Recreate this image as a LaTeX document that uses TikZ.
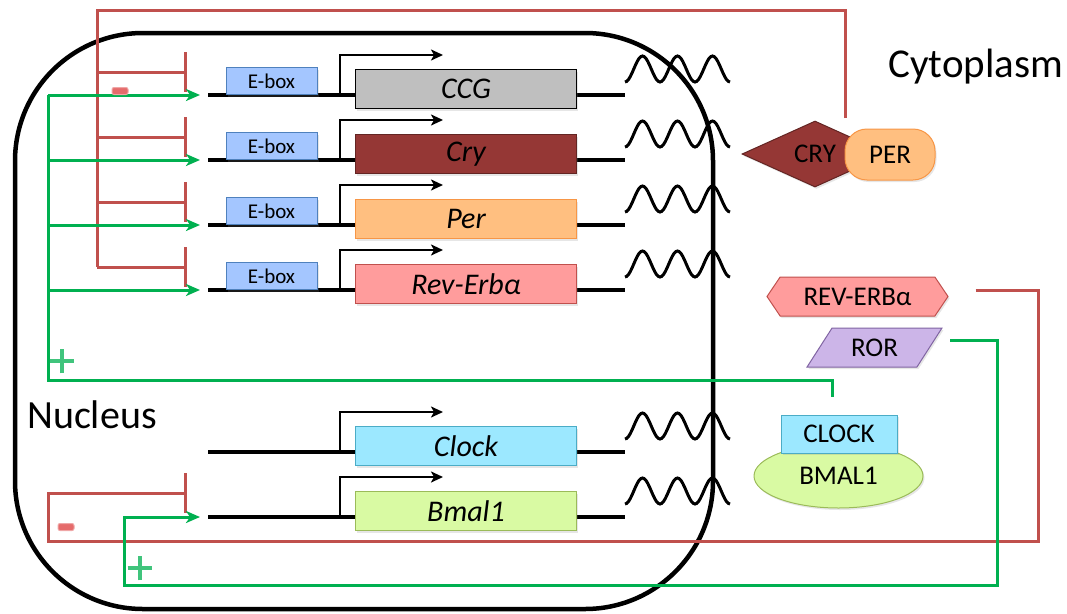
\documentclass[tikz,border=0pt]{standalone}
\usepackage{fontspec}
\setmainfont{Carlito}
\usetikzlibrary{arrows.meta,shapes.geometric,shapes.symbols,shapes.misc,shadows}
\definecolor{inhred}{HTML}{C0504D}
\definecolor{minusred}{HTML}{E56B6B}
\definecolor{actgreen}{HTML}{00B050}
\definecolor{eboxfill}{HTML}{A4C6FF}
\definecolor{eboxline}{HTML}{4F81BD}
\definecolor{ccggray}{HTML}{BFBFBF}
\definecolor{cryred}{HTML}{953735}
\definecolor{crydark}{HTML}{632523}
\definecolor{perfill}{HTML}{FFBF80}
\definecolor{perline}{HTML}{F79646}
\definecolor{revfill}{HTML}{FF9C9C}
\definecolor{revline}{HTML}{C0504D}
\definecolor{clkfill}{HTML}{9CE8FF}
\definecolor{clkline}{HTML}{4BACC6}
\definecolor{bmlfill}{HTML}{D9FAA3}
\definecolor{bmlline}{HTML}{9BBB59}
\definecolor{rorfill}{HTML}{CCB5E8}
\definecolor{rorline}{HTML}{8064A2}
\begin{document}
\begin{tikzpicture}[x=1pt,y=-1pt,
  shade/.style={drop shadow={opacity=0.2,shadow xshift=1.5pt,shadow yshift=-2pt}},
  gene/.style={draw, line width=1pt, minimum width=221pt, minimum height=39pt, inner sep=0pt, shade, font=\fontsize{30}{32}\selectfont\itshape},
  ebox/.style={draw=eboxline, fill=eboxfill, line width=1pt, minimum width=91pt, minimum height=27pt, inner sep=0pt, shade, font=\fontsize{21}{23}\selectfont},
  prot/.style={line width=1pt, inner sep=0pt, shade, font=\fontsize{27}{29}\selectfont},
  dna/.style={line width=4pt},
  wave/.style={line width=3pt},
  prom/.style={line width=2.5pt, -{Stealth[length=12pt,width=11pt,inset=3pt]}},
  repline/.style={draw=inhred, line width=3pt},
  inh/.style={repline, -{Bar[width=40pt]}},
  actline/.style={draw=actgreen, line width=3pt},
  act/.style={actline, -{Stealth[length=14pt,width=12pt,inset=4pt]}},
  minus/.style={rectangle, rounded corners=2pt, fill=minusred, draw=minusred!60, line width=1pt, minimum width=16pt, minimum height=7pt, inner sep=0pt},
  plus/.style={cross out, draw=actgreen!75, line width=3.5pt, minimum size=14pt, inner sep=0pt, rotate=45},
  ]
\useasboundingbox (0,0) rectangle (1067,613);

% nucleus
\draw[line width=4.5pt, rounded corners=128pt] (15,33) rectangle (713,609);
\node[anchor=base west, inner sep=0pt, font=\fontsize{40}{42}\selectfont] (nuc) at (27,428) {Nucleus};
\node[anchor=base west, inner sep=0pt, font=\fontsize{41}{43}\selectfont] (cyto) at (888,77) {Cytoplasm};

% genes: edit here for the rows
\foreach \y/\g/\txt/\fc/\dc in {95/ccg/CCG/ccggray/black, 160/cry/Cry/cryred/crydark,
    225/per/Per/perfill/perline, 290/rev/Rev-Erbα/revfill/revline,
    452/clk/Clock/clkfill/clkline, 517/bml/Bmal1/bmlfill/bmlline}
{
  \coordinate (\g-in) at (208,\y);
  \coordinate (\g-out) at (625,\y);
  \coordinate (\g-tss) at (340,\y);
  \coordinate (\g-go) at (443,\y-40);
  \coordinate (\g-bar) at (187,\y-23);
  \draw[dna] (\g-in) -- (\g-out);
  \node[gene, fill=\fc, draw=\dc] (\g) at (466,\y-6) {\txt};
  \draw[prom] (\g-tss) |- (\g-go);
  \draw[wave] plot[domain=0:1080, samples=61, smooth] ({625+\x/360*35},{\y-26+13*cos(\x)});
}

% proteins
\node[prot, diamond, fill=cryred, draw=crydark, minimum width=146pt, minimum height=66pt] (cryp) at (815,154) {CRY};
\node[prot, rectangle, rounded corners=22pt, fill=perfill, draw=perline, minimum width=90pt, minimum height=51pt] (perp) at (890,154.5) {PER};
\node[prot, signal, signal to=west and east, signal pointer angle=112, fill=revfill, draw=revline, minimum width=181pt, minimum height=39pt] (revp) at (857.5,296.5) {REV-ERBα};
\node[prot, trapezium, trapezium left angle=52, trapezium right angle=128, trapezium stretches=true, fill=rorfill, draw=rorline, minimum width=135pt, minimum height=39pt] (rorp) at (874.5,347.5) {ROR};
\node[prot, ellipse, fill=bmlfill, draw=bmlline, minimum width=169pt, minimum height=64pt] (bmlp) at (838.5,476) {BMAL1};
\node[prot, rectangle, fill=clkfill, draw=clkline, minimum width=116pt, minimum height=38pt] (clkp) at (839,434) {CLOCK};

% repression by CRY:PER
\coordinate (repbus) at (97,10);
\coordinate (crytop) at (845,118);
\draw[repline] (crytop) |- (repbus) -- (rev-bar -| repbus);
\foreach \g in {ccg,cry,per,rev}
  \draw[inh] (\g-bar -| repbus) -- (\g-bar);

% activation by CLOCK:BMAL1
\coordinate (actbus) at (48,380);
\draw[actline] ([xshift=-7pt,yshift=18pt]clkp.north) |- (actbus) -- (ccg-in -| actbus);
\foreach \g in {ccg,cry,per,rev}{
  \node[ebox, anchor=south] (\g-ebox) at (\g-in -| 271.5,0) {E-box};
  \draw[act] (\g-in -| actbus) -- ([xshift=-8pt]\g-in);
}

% REV-ERBa and ROR on Bmal1
\coordinate (bml-bar) at (187,493);
\draw[inh] ([xshift=27pt,yshift=6.5pt]revp.east) -| (1038,541) -- (48,541) |- (bml-bar);
\draw[act] ([xshift=20pt,yshift=7.5pt]rorp.east) -| (997,585) -- (124,585) |- ([xshift=-8pt]bml-in);

% signs
\node[minus] (minus1) at (120,91) {};
\node[minus] (minus2) at (66,527) {};
\node[plus] (plus1) at (62,361) {};
\node[plus] (plus2) at (140,568) {};
\end{tikzpicture}
\end{document}
